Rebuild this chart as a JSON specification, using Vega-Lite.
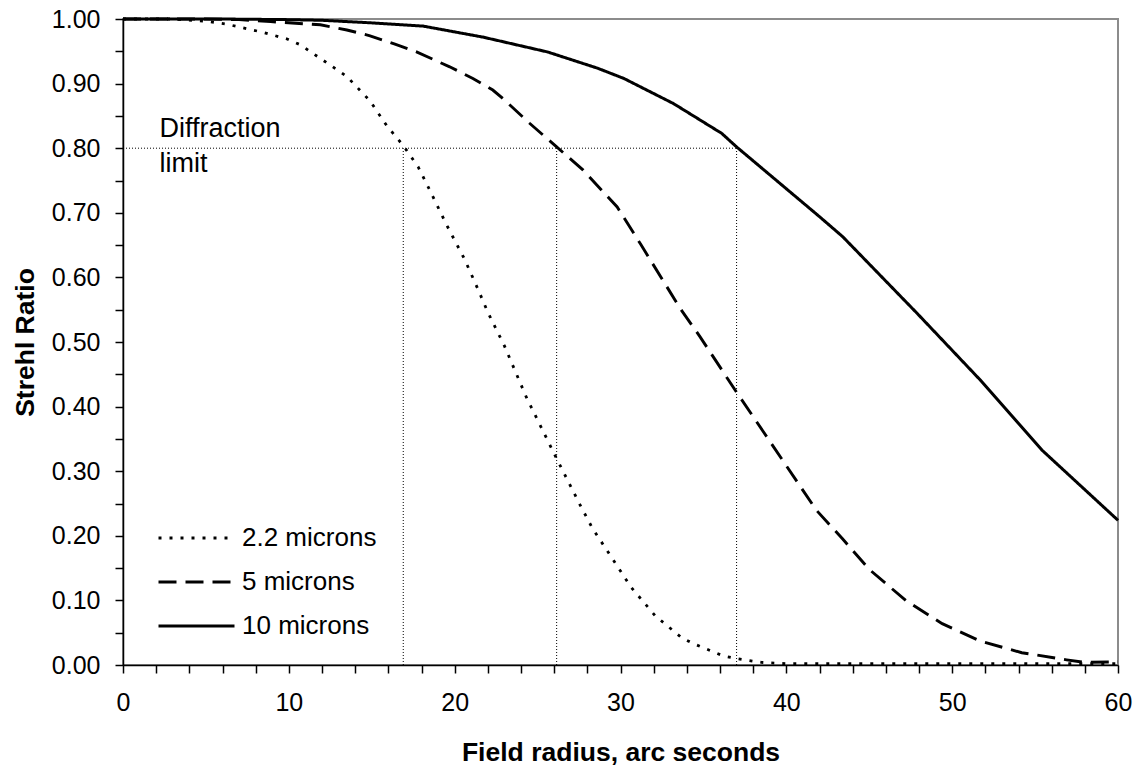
{
  "$schema": "https://vega.github.io/schema/vega-lite/v6.json",
  "width": 995,
  "height": 646,
  "autosize": {"type": "none"},
  "padding": {"left": 123, "top": 19, "right": 24, "bottom": 106},
  "background": "white",
  "config": {
    "font": "Liberation Sans",
    "view": {"stroke": "#8c8c8c", "strokeWidth": 2}
  },
  "datasets": {
    "curves": [
      {"series": "2.2 microns", "x": 0, "y": 1.0},
      {"series": "2.2 microns", "x": 3, "y": 1.0},
      {"series": "2.2 microns", "x": 5.2, "y": 0.996},
      {"series": "2.2 microns", "x": 6.25, "y": 0.992},
      {"series": "2.2 microns", "x": 8.5, "y": 0.979},
      {"series": "2.2 microns", "x": 9.9, "y": 0.969},
      {"series": "2.2 microns", "x": 10.7, "y": 0.96},
      {"series": "2.2 microns", "x": 12.7, "y": 0.925},
      {"series": "2.2 microns", "x": 13.5, "y": 0.911},
      {"series": "2.2 microns", "x": 14.9, "y": 0.873},
      {"series": "2.2 microns", "x": 15.9, "y": 0.835},
      {"series": "2.2 microns", "x": 16.9, "y": 0.804},
      {"series": "2.2 microns", "x": 17.8, "y": 0.771},
      {"series": "2.2 microns", "x": 18.5, "y": 0.735},
      {"series": "2.2 microns", "x": 19.5, "y": 0.682},
      {"series": "2.2 microns", "x": 20.6, "y": 0.628},
      {"series": "2.2 microns", "x": 21.4, "y": 0.582},
      {"series": "2.2 microns", "x": 22.0, "y": 0.546},
      {"series": "2.2 microns", "x": 23.0, "y": 0.494},
      {"series": "2.2 microns", "x": 24.35, "y": 0.413},
      {"series": "2.2 microns", "x": 26.1, "y": 0.322},
      {"series": "2.2 microns", "x": 27.6, "y": 0.246},
      {"series": "2.2 microns", "x": 28.3, "y": 0.212},
      {"series": "2.2 microns", "x": 30.65, "y": 0.12},
      {"series": "2.2 microns", "x": 32.1, "y": 0.076},
      {"series": "2.2 microns", "x": 33.7, "y": 0.042},
      {"series": "2.2 microns", "x": 34.4, "y": 0.033},
      {"series": "2.2 microns", "x": 36.2, "y": 0.014},
      {"series": "2.2 microns", "x": 37.0, "y": 0.01},
      {"series": "2.2 microns", "x": 38.5, "y": 0.004},
      {"series": "2.2 microns", "x": 40, "y": 0.002},
      {"series": "2.2 microns", "x": 45, "y": 0.002},
      {"series": "2.2 microns", "x": 50, "y": 0.002},
      {"series": "2.2 microns", "x": 55, "y": 0.002},
      {"series": "2.2 microns", "x": 60, "y": 0.002},
      {"series": "5 microns", "x": 0, "y": 1.0},
      {"series": "5 microns", "x": 5, "y": 1.0},
      {"series": "5 microns", "x": 7, "y": 0.999},
      {"series": "5 microns", "x": 8.9, "y": 0.996},
      {"series": "5 microns", "x": 11.9, "y": 0.991},
      {"series": "5 microns", "x": 13.5, "y": 0.983},
      {"series": "5 microns", "x": 14.9, "y": 0.974},
      {"series": "5 microns", "x": 16.4, "y": 0.961},
      {"series": "5 microns", "x": 17.7, "y": 0.949},
      {"series": "5 microns", "x": 19.7, "y": 0.926},
      {"series": "5 microns", "x": 21.1, "y": 0.908},
      {"series": "5 microns", "x": 22.3, "y": 0.89},
      {"series": "5 microns", "x": 22.9, "y": 0.877},
      {"series": "5 microns", "x": 24.5, "y": 0.839},
      {"series": "5 microns", "x": 26.15, "y": 0.802},
      {"series": "5 microns", "x": 27.75, "y": 0.766},
      {"series": "5 microns", "x": 29.8, "y": 0.709},
      {"series": "5 microns", "x": 31.2, "y": 0.652},
      {"series": "5 microns", "x": 33.6, "y": 0.552},
      {"series": "5 microns", "x": 34.8, "y": 0.508},
      {"series": "5 microns", "x": 36.9, "y": 0.426},
      {"series": "5 microns", "x": 37.8, "y": 0.392},
      {"series": "5 microns", "x": 41.8, "y": 0.24},
      {"series": "5 microns", "x": 43.4, "y": 0.195},
      {"series": "5 microns", "x": 45.0, "y": 0.148},
      {"series": "5 microns", "x": 47.2, "y": 0.1},
      {"series": "5 microns", "x": 49.4, "y": 0.064},
      {"series": "5 microns", "x": 51.7, "y": 0.037},
      {"series": "5 microns", "x": 54.2, "y": 0.019},
      {"series": "5 microns", "x": 56.9, "y": 0.008},
      {"series": "5 microns", "x": 58.0, "y": 0.004},
      {"series": "5 microns", "x": 60, "y": 0.005},
      {"series": "10 microns", "x": 0, "y": 1.0},
      {"series": "10 microns", "x": 6, "y": 1.0},
      {"series": "10 microns", "x": 10, "y": 0.999},
      {"series": "10 microns", "x": 12, "y": 0.998},
      {"series": "10 microns", "x": 15, "y": 0.994},
      {"series": "10 microns", "x": 18.1, "y": 0.989},
      {"series": "10 microns", "x": 21.7, "y": 0.972},
      {"series": "10 microns", "x": 25.6, "y": 0.949},
      {"series": "10 microns", "x": 28.6, "y": 0.924},
      {"series": "10 microns", "x": 30.2, "y": 0.908},
      {"series": "10 microns", "x": 33.2, "y": 0.869},
      {"series": "10 microns", "x": 36.1, "y": 0.823},
      {"series": "10 microns", "x": 37.0, "y": 0.802},
      {"series": "10 microns", "x": 42.0, "y": 0.694},
      {"series": "10 microns", "x": 43.4, "y": 0.663},
      {"series": "10 microns", "x": 47.9, "y": 0.544},
      {"series": "10 microns", "x": 51.7, "y": 0.441},
      {"series": "10 microns", "x": 55.4, "y": 0.333},
      {"series": "10 microns", "x": 60, "y": 0.224}
    ],
    "refs": [
      {"x": 0, "x2": 37, "y": 0.8, "y2": 0.8},
      {"x": 16.9, "x2": 16.9, "y": 0, "y2": 0.8},
      {"x": 26.15, "x2": 26.15, "y": 0, "y2": 0.8},
      {"x": 37, "x2": 37, "y": 0, "y2": 0.8}
    ],
    "notes": [
      {"label": "Diffraction", "x": 2.2, "y": 0.817},
      {"label": "limit", "x": 2.2, "y": 0.763}
    ]
  },
  "encoding": {
    "x": {
      "field": "x",
      "type": "quantitative",
      "scale": {"domain": [0, 60], "nice": false, "zero": false},
      "axis": {
        "title": "Field radius, arc seconds",
        "values": [0, 2, 4, 6, 8, 10, 12, 14, 16, 18, 20, 22, 24, 26, 28, 30, 32, 34, 36, 38, 40, 42, 44, 46, 48, 50, 52, 54, 56, 58, 60],
        "labelExpr": "datum.value % 10 === 0 ? datum.label : ''",
        "grid": false,
        "domainColor": "black",
        "domainWidth": 1.5,
        "tickColor": "black",
        "tickWidth": 1.5,
        "tickSize": 8,
        "labelFontSize": 25,
        "labelColor": "black",
        "labelBaseline": "alphabetic",
        "labelPadding": 37,
        "labelFlush": false,
        "labelOverlap": false,
        "titleFontSize": 26.5,
        "titleFontWeight": "bold",
        "titleColor": "black",
        "titleY": 95,
        "titleBaseline": "alphabetic",
        "encode": {
          "ticks": {"update": {"y": [{"test": "datum.value % 10 === 0", "value": -8}, {"value": 0}]}}
        }
      }
    },
    "y": {
      "field": "y",
      "type": "quantitative",
      "scale": {"domain": [0, 1], "nice": false},
      "axis": {
        "title": "Strehl Ratio",
        "values": [0, 0.05, 0.1, 0.15, 0.2, 0.25, 0.3, 0.35, 0.4, 0.45, 0.5, 0.55, 0.6, 0.65, 0.7, 0.75, 0.8, 0.85, 0.9, 0.95, 1.0],
        "labelExpr": "abs(datum.value * 10 - round(datum.value * 10)) < 0.001 ? format(datum.value, '.2f') : ''",
        "grid": false,
        "domainColor": "black",
        "domainWidth": 1.5,
        "tickColor": "black",
        "tickWidth": 1.5,
        "tickSize": 8,
        "labelFontSize": 25,
        "labelColor": "black",
        "labelPadding": 15,
        "labelFlush": false,
        "labelOverlap": false,
        "titleFontSize": 26.5,
        "titleFontWeight": "bold",
        "titleColor": "black",
        "titleX": -90,
        "titleBaseline": "alphabetic",
        "encode": {
          "ticks": {"update": {"x": [{"test": "abs(datum.value * 10 - round(datum.value * 10)) < 0.001", "value": 8}, {"value": 0}]}}
        }
      }
    }
  },
  "layer": [
    {
      "data": {"name": "refs"},
      "mark": {"type": "rule", "color": "black", "strokeWidth": 1, "strokeDash": [1, 2]},
      "encoding": {
        "x2": {"field": "x2"},
        "y2": {"field": "y2"}
      }
    },
    {
      "data": {"name": "curves"},
      "mark": {"type": "line", "color": "black", "strokeCap": "butt"},
      "encoding": {
        "strokeDash": {
          "field": "series",
          "type": "ordinal",
          "sort": ["2.2 microns", "5 microns", "10 microns"],
          "scale": {"domain": ["2.2 microns", "5 microns", "10 microns"], "range": [[3, 8], [18, 9], [1, 0]]},
          "legend": {
            "title": null,
            "orient": "none",
            "legendX": 34,
            "legendY": 497,
            "symbolType": "stroke",
            "symbolSize": 5776,
            "symbolStrokeColor": "black",
            "labelFontSize": 26,
            "labelColor": "black",
            "labelOffset": 6,
            "clipHeight": 44,
            "rowPadding": 0,
            "labelLimit": 300
          }
        },
        "strokeWidth": {
          "field": "series",
          "type": "ordinal",
          "sort": ["2.2 microns", "5 microns", "10 microns"],
          "scale": {"domain": ["2.2 microns", "5 microns", "10 microns"], "range": [2.8, 3, 2]},
          "legend": {
            "title": null,
            "orient": "none",
            "legendX": 34,
            "legendY": 497,
            "symbolType": "stroke",
            "symbolSize": 5776,
            "symbolStrokeColor": "black",
            "labelFontSize": 26,
            "labelColor": "black",
            "labelOffset": 6,
            "clipHeight": 44,
            "rowPadding": 0,
            "labelLimit": 300
          }
        },
        "detail": {"field": "series"}
      }
    },
    {
      "data": {"name": "notes"},
      "mark": {"type": "text", "align": "left", "baseline": "alphabetic", "fontSize": 27, "color": "black"},
      "encoding": {
        "text": {"field": "label"}
      }
    }
  ]
}
